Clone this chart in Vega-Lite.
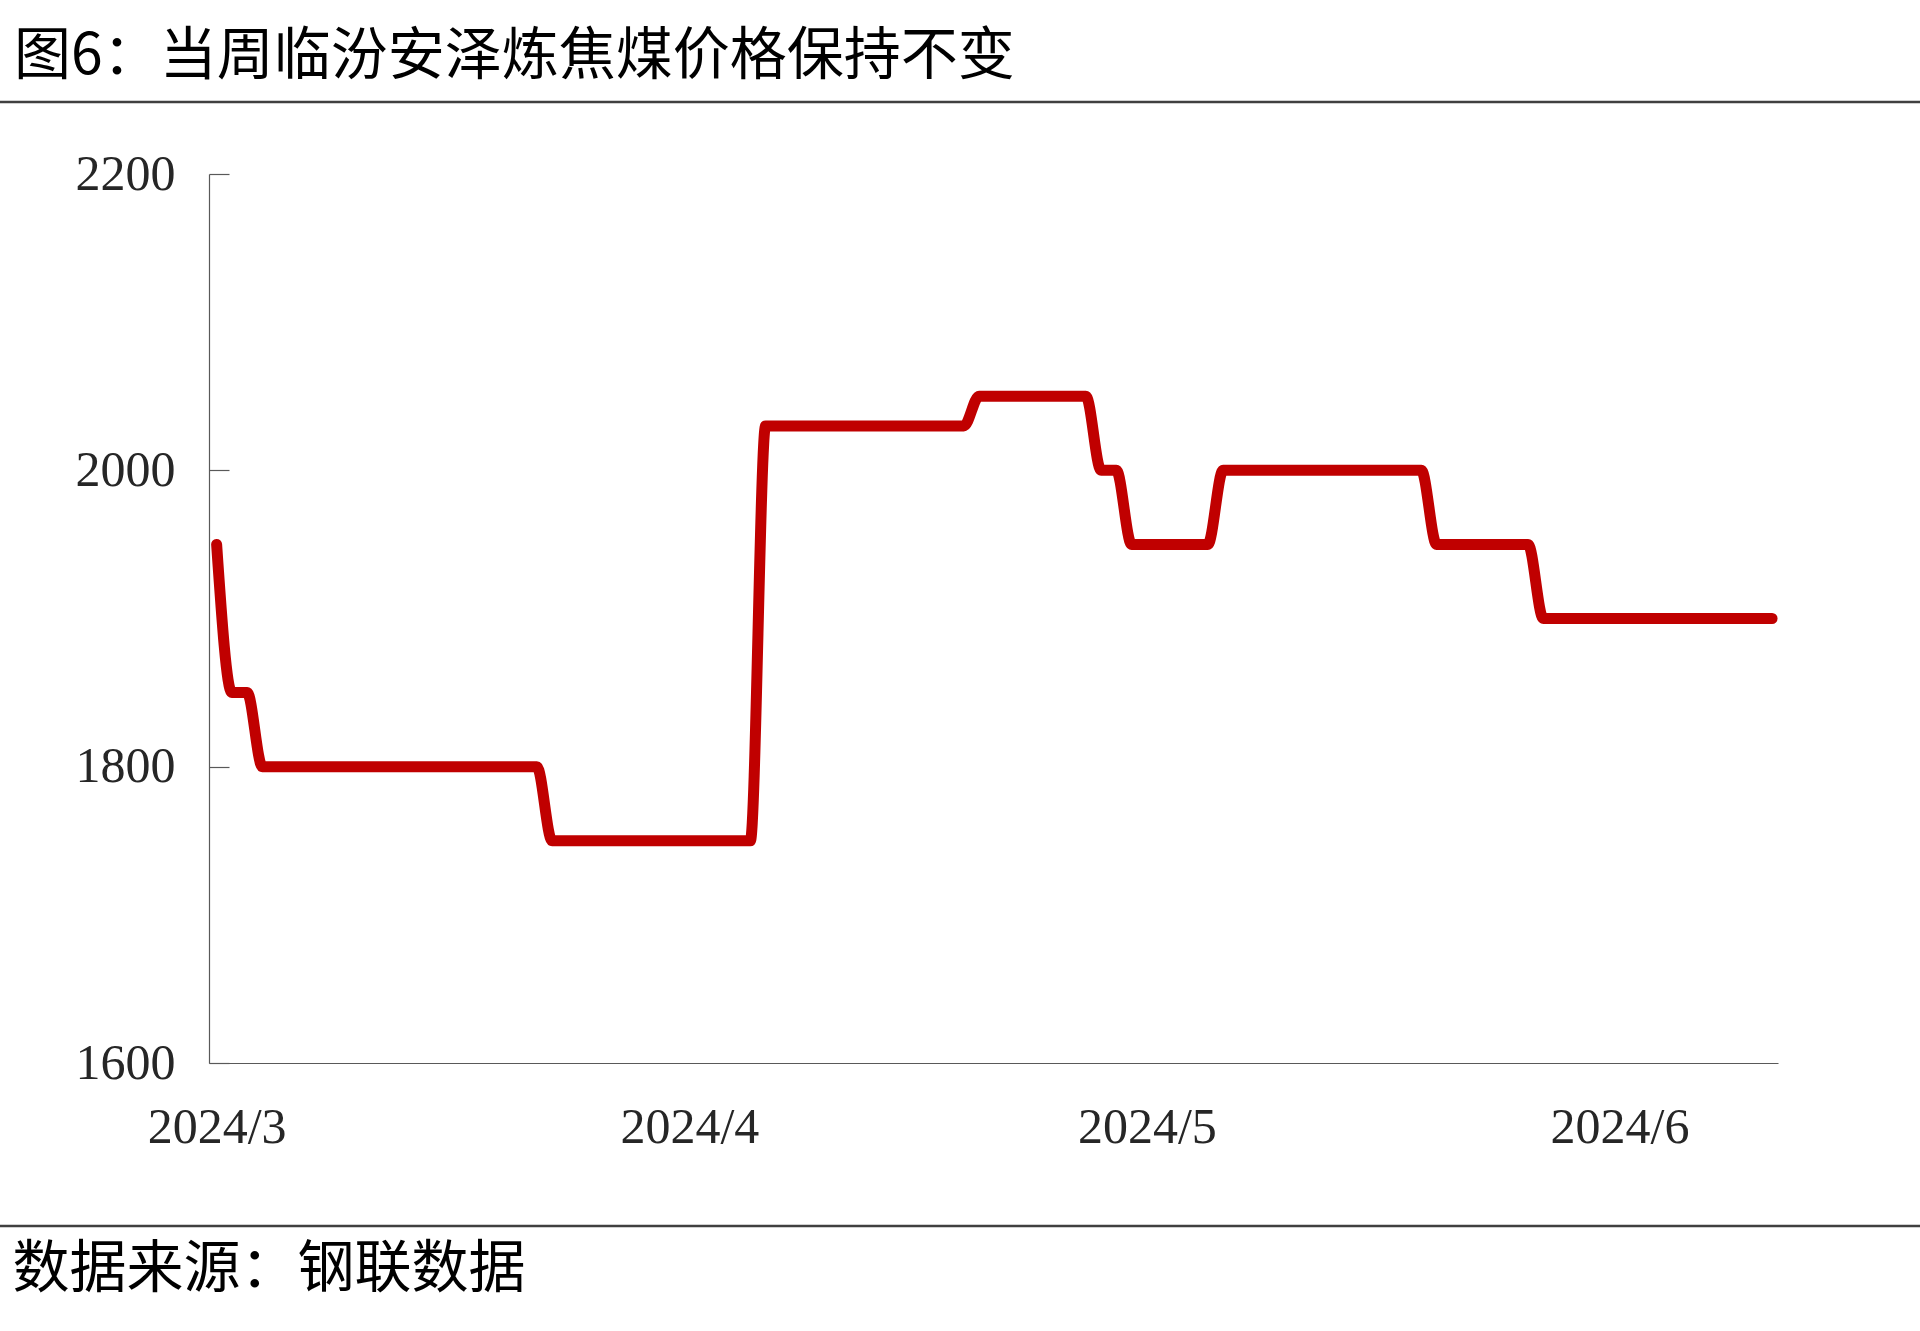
{
  "$schema": "https://vega.github.io/schema/vega-lite/v6.json",
  "width": 1569,
  "height": 889,
  "autosize": {"type": "none"},
  "padding": {"left": 209, "top": 174, "right": 142, "bottom": 268},
  "background": "white",
  "config": {"view": {"stroke": null}},
  "title": {
    "text": "图6：当周临汾安泽炼焦煤价格保持不变",
    "anchor": "start",
    "frame": "group",
    "font": "Noto Sans CJK SC",
    "fontSize": 57,
    "fontWeight": "normal",
    "color": "#000000",
    "dx": -195,
    "dy": 52,
    "offset": 39,
    "baseline": "middle"
  },
  "layer": [
    {
      "data": {
        "values": [
          {"date": "2024-03-01T00:00", "price": 1950},
          {"date": "2024-03-02T00:00", "price": 1850},
          {"date": "2024-03-03T00:00", "price": 1850},
          {"date": "2024-03-04T00:00", "price": 1800},
          {"date": "2024-03-05T00:00", "price": 1800},
          {"date": "2024-03-06T00:00", "price": 1800},
          {"date": "2024-03-07T00:00", "price": 1800},
          {"date": "2024-03-08T00:00", "price": 1800},
          {"date": "2024-03-09T00:00", "price": 1800},
          {"date": "2024-03-10T00:00", "price": 1800},
          {"date": "2024-03-11T00:00", "price": 1800},
          {"date": "2024-03-12T00:00", "price": 1800},
          {"date": "2024-03-13T00:00", "price": 1800},
          {"date": "2024-03-14T00:00", "price": 1800},
          {"date": "2024-03-15T00:00", "price": 1800},
          {"date": "2024-03-16T00:00", "price": 1800},
          {"date": "2024-03-17T00:00", "price": 1800},
          {"date": "2024-03-18T00:00", "price": 1800},
          {"date": "2024-03-19T00:00", "price": 1800},
          {"date": "2024-03-20T00:00", "price": 1800},
          {"date": "2024-03-21T00:00", "price": 1800},
          {"date": "2024-03-22T00:00", "price": 1800},
          {"date": "2024-03-23T00:00", "price": 1750},
          {"date": "2024-03-24T00:00", "price": 1750},
          {"date": "2024-03-25T00:00", "price": 1750},
          {"date": "2024-03-26T00:00", "price": 1750},
          {"date": "2024-03-27T00:00", "price": 1750},
          {"date": "2024-03-28T00:00", "price": 1750},
          {"date": "2024-03-29T00:00", "price": 1750},
          {"date": "2024-03-30T00:00", "price": 1750},
          {"date": "2024-03-31T00:00", "price": 1750},
          {"date": "2024-04-01T00:00", "price": 1750},
          {"date": "2024-04-02T00:00", "price": 1750},
          {"date": "2024-04-03T00:00", "price": 1750},
          {"date": "2024-04-04T00:00", "price": 1750},
          {"date": "2024-04-05T00:00", "price": 1750},
          {"date": "2024-04-06T00:00", "price": 2030},
          {"date": "2024-04-07T00:00", "price": 2030},
          {"date": "2024-04-08T00:00", "price": 2030},
          {"date": "2024-04-09T00:00", "price": 2030},
          {"date": "2024-04-10T00:00", "price": 2030},
          {"date": "2024-04-11T00:00", "price": 2030},
          {"date": "2024-04-12T00:00", "price": 2030},
          {"date": "2024-04-13T00:00", "price": 2030},
          {"date": "2024-04-14T00:00", "price": 2030},
          {"date": "2024-04-15T00:00", "price": 2030},
          {"date": "2024-04-16T00:00", "price": 2030},
          {"date": "2024-04-17T00:00", "price": 2030},
          {"date": "2024-04-18T00:00", "price": 2030},
          {"date": "2024-04-19T00:00", "price": 2030},
          {"date": "2024-04-20T00:00", "price": 2050},
          {"date": "2024-04-21T00:00", "price": 2050},
          {"date": "2024-04-22T00:00", "price": 2050},
          {"date": "2024-04-23T00:00", "price": 2050},
          {"date": "2024-04-24T00:00", "price": 2050},
          {"date": "2024-04-25T00:00", "price": 2050},
          {"date": "2024-04-26T00:00", "price": 2050},
          {"date": "2024-04-27T00:00", "price": 2050},
          {"date": "2024-04-28T00:00", "price": 2000},
          {"date": "2024-04-29T00:00", "price": 2000},
          {"date": "2024-04-30T00:00", "price": 1950},
          {"date": "2024-05-01T00:00", "price": 1950},
          {"date": "2024-05-02T00:00", "price": 1950},
          {"date": "2024-05-03T00:00", "price": 1950},
          {"date": "2024-05-04T00:00", "price": 1950},
          {"date": "2024-05-05T00:00", "price": 1950},
          {"date": "2024-05-06T00:00", "price": 2000},
          {"date": "2024-05-07T00:00", "price": 2000},
          {"date": "2024-05-08T00:00", "price": 2000},
          {"date": "2024-05-09T00:00", "price": 2000},
          {"date": "2024-05-10T00:00", "price": 2000},
          {"date": "2024-05-11T00:00", "price": 2000},
          {"date": "2024-05-12T00:00", "price": 2000},
          {"date": "2024-05-13T00:00", "price": 2000},
          {"date": "2024-05-14T00:00", "price": 2000},
          {"date": "2024-05-15T00:00", "price": 2000},
          {"date": "2024-05-16T00:00", "price": 2000},
          {"date": "2024-05-17T00:00", "price": 2000},
          {"date": "2024-05-18T00:00", "price": 2000},
          {"date": "2024-05-19T00:00", "price": 2000},
          {"date": "2024-05-20T00:00", "price": 1950},
          {"date": "2024-05-21T00:00", "price": 1950},
          {"date": "2024-05-22T00:00", "price": 1950},
          {"date": "2024-05-23T00:00", "price": 1950},
          {"date": "2024-05-24T00:00", "price": 1950},
          {"date": "2024-05-25T00:00", "price": 1950},
          {"date": "2024-05-26T00:00", "price": 1950},
          {"date": "2024-05-27T00:00", "price": 1900},
          {"date": "2024-05-28T00:00", "price": 1900},
          {"date": "2024-05-29T00:00", "price": 1900},
          {"date": "2024-05-30T00:00", "price": 1900},
          {"date": "2024-05-31T00:00", "price": 1900},
          {"date": "2024-06-01T00:00", "price": 1900},
          {"date": "2024-06-02T00:00", "price": 1900},
          {"date": "2024-06-03T00:00", "price": 1900},
          {"date": "2024-06-04T00:00", "price": 1900},
          {"date": "2024-06-05T00:00", "price": 1900},
          {"date": "2024-06-06T00:00", "price": 1900},
          {"date": "2024-06-07T00:00", "price": 1900},
          {"date": "2024-06-08T00:00", "price": 1900},
          {"date": "2024-06-09T00:00", "price": 1900},
          {"date": "2024-06-10T00:00", "price": 1900},
          {"date": "2024-06-11T00:00", "price": 1900}
        ]
      },
      "mark": {"type": "line", "interpolate": "monotone", "color": "#C00000", "strokeWidth": 11, "strokeCap": "round", "strokeJoin": "round"},
      "encoding": {
        "x": {
          "field": "date",
          "type": "temporal",
          "scale": {"domain": [{"year": 2024, "month": 2, "date": 29, "hours": 12}, {"year": 2024, "month": 6, "date": 11, "hours": 9, "minutes": 20}], "nice": false},
          "axis": {
            "values": [{"year": 2024, "month": 3, "date": 1}, {"year": 2024, "month": 4, "date": 1}, {"year": 2024, "month": 5, "date": 1}, {"year": 2024, "month": 6, "date": 1}],
            "format": "%Y/%-m",
            "grid": false,
            "ticks": false,
            "domainColor": "#595959",
            "domainWidth": 1.2,
            "labelFont": "Liberation Serif",
            "labelFontSize": 50,
            "labelColor": "#262626",
            "labelPadding": 39,
            "labelFlush": false,
            "labelOverlap": false,
            "title": "数据来源：钢联数据",
            "titleFont": "Noto Sans CJK SC",
            "titleFontSize": 57,
            "titleFontWeight": "normal",
            "titleColor": "#000000",
            "titleAlign": "left",
            "titleBaseline": "middle",
            "titleAnchor": "start",
            "titleX": -197,
            "titleY": 206
          }
        },
        "y": {
          "field": "price",
          "type": "quantitative",
          "scale": {"domain": [1600, 2200], "nice": false, "zero": false},
          "axis": {
            "values": [1600, 1800, 2000, 2200],
            "format": "d",
            "grid": false,
            "ticks": true,
            "tickSize": -20,
            "tickColor": "#595959",
            "tickWidth": 1.2,
            "domainColor": "#595959",
            "domainWidth": 1.2,
            "labelFont": "Liberation Serif",
            "labelFontSize": 50,
            "labelColor": "#262626",
            "labelPadding": 54,
            "title": null
          }
        }
      }
    },
    {
      "data": {"values": [{"sep": "top"}]},
      "mark": {"type": "rule", "color": "#404040", "strokeWidth": 2.5},
      "encoding": {
        "x": {"datum": {"year": 2024, "month": 2, "date": 10}, "type": "temporal"},
        "x2": {"datum": {"year": 2024, "month": 6, "date": 30}},
        "y": {"datum": 2248.6, "type": "quantitative"}
      }
    },
    {
      "data": {"values": [{"sep": "bottom"}]},
      "mark": {"type": "rule", "color": "#404040", "strokeWidth": 2.5},
      "encoding": {
        "x": {"datum": {"year": 2024, "month": 2, "date": 10}, "type": "temporal"},
        "x2": {"datum": {"year": 2024, "month": 6, "date": 30}},
        "y": {"datum": 1490, "type": "quantitative"}
      }
    }
  ]
}
